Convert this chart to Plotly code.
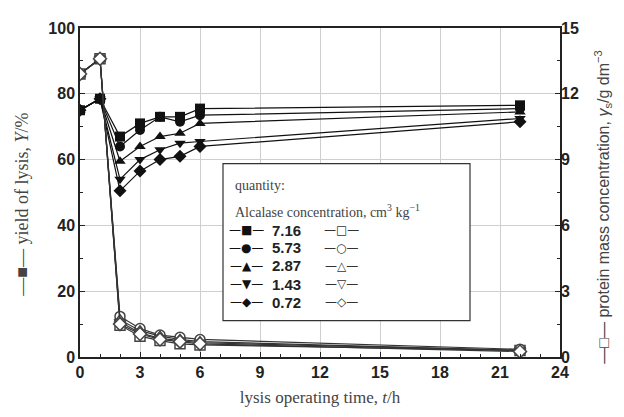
import plotly.graph_objects as go

time_h = [0, 1, 2, 3, 4, 5, 6, 22]
conc_labels = ["7.16", "5.73", "2.87", "1.43", "0.72"]
yield_716 = [75, 78.5, 67, 71, 73, 73, 75.5, 76.5]
yield_573 = [75, 78.5, 64, 69, 73, 71.5, 73.5, 75.5]
yield_287 = [75, 78.5, 59.5, 64, 67, 68, 71, 74.5]
yield_143 = [75, 78.5, 54, 60, 63, 65, 65.5, 72.5]
yield_072 = [75, 78.5, 50.5, 56.5, 60, 61, 64, 71.5]
prot_716 = [12.9, 13.6, 1.45, 0.95, 0.75, 0.6, 0.55, 0.3]
prot_573 = [12.9, 13.6, 1.85, 1.3, 1.0, 0.9, 0.8, 0.35]
prot_287 = [12.9, 13.6, 1.7, 1.2, 0.95, 0.8, 0.7, 0.3]
prot_143 = [12.9, 13.6, 1.6, 1.1, 0.85, 0.75, 0.65, 0.3]
prot_072 = [12.9, 13.6, 1.5, 1.05, 0.8, 0.7, 0.6, 0.25]

yields = [yield_716, yield_573, yield_287, yield_143, yield_072]
prots = [prot_716, prot_573, prot_287, prot_143, prot_072]
filled_sym = ["square", "circle", "triangle-up", "triangle-down", "diamond"]
filled_char = ["■", "●", "▲", "▼", "◆"]
open_char = ["□", "○", "△", "▽", "◇"]

fig = go.Figure()
for i in range(5):
    fig.add_trace(go.Scatter(
        x=time_h, y=prots[i], yaxis="y2", mode="lines+markers",
        line=dict(color="#333", width=1.2),
        marker=dict(symbol=filled_sym[i], size=10, color="white",
                    line=dict(color="#444", width=1.5)),
        showlegend=False))
for i in range(5):
    fig.add_trace(go.Scatter(
        x=time_h, y=yields[i], mode="lines+markers",
        line=dict(color="#111", width=1.2),
        marker=dict(symbol=filled_sym[i], size=10, color="#111"),
        showlegend=False))

tickfont = dict(family="Liberation Sans, Arial", size=16, color="#222")
fig.update_layout(
    width=624, height=417,
    margin=dict(l=72, r=72, t=14, b=68),
    paper_bgcolor="white", plot_bgcolor="white",
    font=dict(family="Liberation Sans, Arial", color="#222"),
    xaxis=dict(range=[0, 24], tickvals=[0, 3, 6, 9, 12, 15, 18, 21, 24],
               ticktext=["<b>%d</b>" % v for v in [0, 3, 6, 9, 12, 15, 18, 21, 24]],
               ticks="inside", ticklen=5, tickcolor="#222",
               minor=dict(dtick=1, ticks="inside", ticklen=3, tickcolor="#222", showgrid=False),
               showgrid=True, gridcolor="#cfcfcf", gridwidth=1,
               showline=True, linecolor="#222", linewidth=1.5, mirror=True,
               zeroline=False, tickfont=tickfont,
               title=dict(text="lysis operating time, <i>t</i>/h",
                          font=dict(family="Liberation Serif, Times New Roman", size=17, color="#444"),
                          standoff=11)),
    yaxis=dict(range=[0, 100], tickvals=[0, 20, 40, 60, 80, 100],
               ticktext=["<b>%d</b>" % v for v in [0, 20, 40, 60, 80, 100]],
               ticks="inside", ticklen=5, tickcolor="#222",
               minor=dict(dtick=10, ticks="inside", ticklen=3, tickcolor="#222", showgrid=False),
               showgrid=True, gridcolor="#cfcfcf", gridwidth=1,
               showline=True, linecolor="#222", linewidth=1.5, mirror=True,
               zeroline=False, tickfont=tickfont),
    yaxis2=dict(range=[0, 15], overlaying="y", side="right",
                tickvals=[0, 3, 6, 9, 12, 15],
                ticktext=["<b>%d</b>" % v for v in [0, 3, 6, 9, 12, 15]],
                ticks="inside", ticklen=5, tickcolor="#222",
                minor=dict(dtick=1.5, ticks="inside", ticklen=3, tickcolor="#222", showgrid=False),
                showgrid=False, zeroline=False, showline=False, tickfont=tickfont),
)

# pixel helpers (plot area spans 480 x 335 px, left 80, bottom 357)
def px_x(p):
    return (p - 80) / 480.0
def px_y(p):
    return (357 - p) / 335.0

# axis titles as rotated annotations
fig.add_annotation(xref="paper", yref="paper", x=px_x(22), y=px_y(202),
                   text="—■— yield of lysis, <i>Y</i>/%", textangle=-90, showarrow=False,
                   xanchor="center", yanchor="middle",
                   font=dict(family="Liberation Serif, DejaVu Serif", size=18, color="#444"))
fig.add_annotation(xref="paper", yref="paper", x=px_x(603), y=px_y(205),
                   text="—□— protein mass concentration, <i>γ</i><sub>s</sub>/g dm<sup>−3</sup>",
                   textangle=-90, showarrow=False, xanchor="center", yanchor="middle",
                   font=dict(family="Liberation Sans, Arial", size=16, color="#444"))

# legend box
fig.add_shape(type="rect", xref="paper", yref="paper",
              x0=px_x(223), x1=px_x(470), y0=px_y(320), y1=px_y(160),
              line=dict(color="#333", width=1.2), fillcolor="white", layer="above")
fig.add_annotation(xref="paper", yref="paper", x=px_x(233), y=px_y(182), text="quantity:",
                   showarrow=False, xanchor="left", yanchor="middle",
                   font=dict(family="Liberation Serif, Times New Roman", size=14, color="#444"))
fig.add_annotation(xref="paper", yref="paper", x=px_x(233), y=px_y(208),
                   text="Alcalase concentration, cm<sup>3</sup> kg<sup>−1</sup>",
                   showarrow=False, xanchor="left", yanchor="middle",
                   font=dict(family="Liberation Serif, Times New Roman", size=14, color="#444"))
row_y = [228, 246, 264, 283, 301]
for i in range(5):
    fig.add_annotation(xref="paper", yref="paper", x=px_x(246), y=px_y(row_y[i]),
                       text="—" + filled_char[i] + "—", showarrow=False,
                       xanchor="center", yanchor="middle",
                       font=dict(family="DejaVu Sans", size=12, color="#111"))
    fig.add_annotation(xref="paper", yref="paper", x=px_x(270), y=px_y(row_y[i]),
                       text="<b>" + conc_labels[i] + "</b>", showarrow=False,
                       xanchor="left", yanchor="middle",
                       font=dict(family="Liberation Sans, Arial", size=15, color="#222"))
    fig.add_annotation(xref="paper", yref="paper", x=px_x(341), y=px_y(row_y[i]),
                       text="—" + open_char[i] + "—", showarrow=False,
                       xanchor="center", yanchor="middle",
                       font=dict(family="DejaVu Sans", size=12, color="#333"))

fig.write_html("out.html")
